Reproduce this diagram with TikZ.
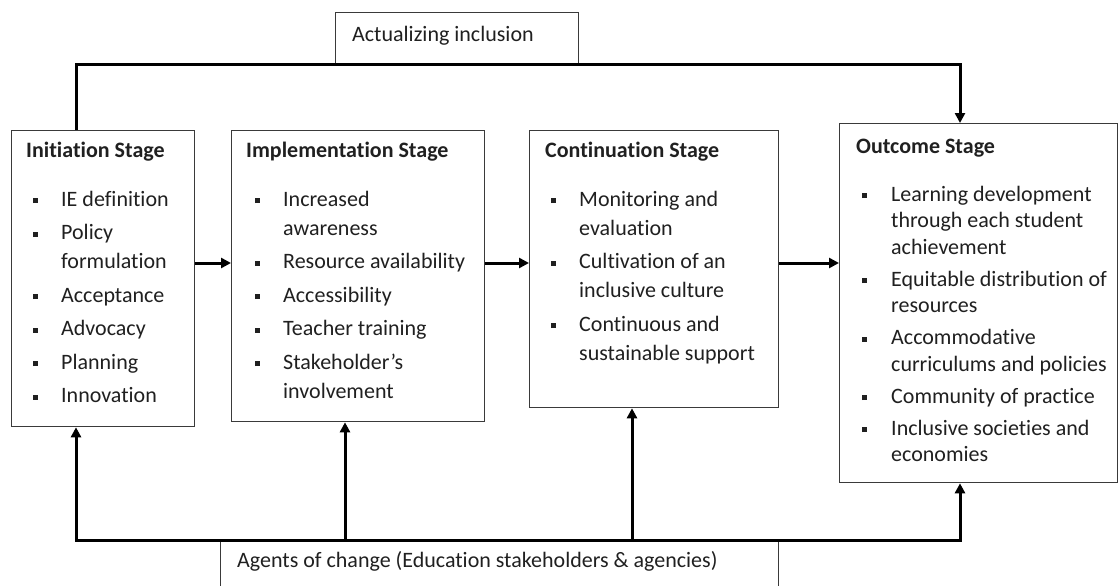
\documentclass[tikz,border=0pt]{standalone}
\usepackage{fontspec}
\setmainfont{Carlito}[Ligatures=NoCommon]
\usetikzlibrary{arrows.meta}

\definecolor{boxgray}{HTML}{3A3A3A}
\definecolor{inkgray}{HTML}{202020}

% small square bullet
\newcommand{\sqbullet}{\rule[3pt]{4.8pt}{4.8pt}}

\tikzset{
  stagebox/.style={draw=boxgray, line width=1.3pt, inner sep=0pt, anchor=north west, fill=white},
  conn/.style={line width=3pt, draw=black, line join=miter},
  tip/.style={-{Triangle[length=10pt,width=10pt]}},
  titletext/.style={anchor=base west, inner sep=0pt, text=inkgray, font=\fontsize{22}{29}\selectfont\bfseries},
  listtext/.style={anchor=base west, inner sep=0pt, text=inkgray},
  plaintext/.style={anchor=base west, inner sep=0pt, text=inkgray, font=\fontsize{22}{29}\selectfont},
}

\begin{document}
\begin{tikzpicture}[x=1pt,y=-1pt]
\useasboundingbox (0,0) rectangle (1119,586);
\fill[white] (0,0) rectangle (1119,586);

% boxes
\node[stagebox, minimum width=243pt, minimum height=53pt] (actual) at (335,12) {};
\node[stagebox, minimum width=183pt, minimum height=296pt] (init) at (11,130) {};
\node[stagebox, minimum width=253pt, minimum height=291pt] (impl) at (231,130) {};
\node[stagebox, minimum width=249pt, minimum height=277pt] (cont) at (529,130) {};
\node[stagebox, minimum width=278pt, minimum height=359pt] (out) at (839,123) {};
\node[stagebox, minimum width=558pt, minimum height=70pt] (agents) at (220,540) {};

% box labels
\node[plaintext] (actualtxt) at (352,42) {Actualizing inclusion};
\node[plaintext] (agentstxt) at (237,567) {Agents of change (Education stakeholders \& agencies)};

\node[titletext] (inittitle) at (26,157) {Initiation Stage};
\node[titletext] (impltitle) at (246,157) {Implementation Stage};
\node[titletext] (conttitle) at (545,157) {Continuation Stage};
\node[titletext] (outtitle) at (856,153) {Outcome Stage};

\node[listtext] (initlist) at (33,206) {\fontsize{22}{29}\selectfont
  \begin{tabular}[t]{@{}p{28pt}@{}l@{}}
  \sqbullet & IE definition\\[4.5pt]
  \sqbullet & Policy\\
            & formulation\\[4.5pt]
  \sqbullet & Acceptance\\[4.5pt]
  \sqbullet & Advocacy\\[4.5pt]
  \sqbullet & Planning\\[4.5pt]
  \sqbullet & Innovation
  \end{tabular}};

\node[listtext] (impllist) at (255,206) {\fontsize{22}{29}\selectfont
  \begin{tabular}[t]{@{}p{28pt}@{}l@{}}
  \sqbullet & Increased\\
            & awareness\\[4.5pt]
  \sqbullet & Resource availability\\[4.5pt]
  \sqbullet & Accessibility\\[4.5pt]
  \sqbullet & Teacher training\\[4.5pt]
  \sqbullet & Stakeholder’s\\
            & involvement
  \end{tabular}};

\node[listtext] (contlist) at (551,206) {\fontsize{22}{29}\selectfont
  \begin{tabular}[t]{@{}p{28pt}@{}l@{}}
  \sqbullet & Monitoring and\\
            & evaluation\\[4.5pt]
  \sqbullet & Cultivation of an\\
            & inclusive culture\\[4.5pt]
  \sqbullet & Continuous and\\
            & sustainable support
  \end{tabular}};

\node[listtext] (outlist) at (862,201) {\fontsize{22}{26.5}\selectfont
  \begin{tabular}[t]{@{}p{29pt}@{}l@{}}
  \sqbullet & Learning development\\
            & through each student\\
            & achievement\\[5.5pt]
  \sqbullet & Equitable distribution of\\
            & resources\\[5.5pt]
  \sqbullet & Accommodative\\
            & curriculums and policies\\[5.5pt]
  \sqbullet & Community of practice\\[5.5pt]
  \sqbullet & Inclusive societies and\\
            & economies
  \end{tabular}};

% connector anchors
\coordinate (tl) at (76,65);
\coordinate (tr) at (960,65);
\coordinate (bl) at (76,540);
\coordinate (br) at (960,540);
\coordinate (bm1) at (345,540);
\coordinate (bm2) at (632,540);
\coordinate (mid) at (0,263);

% top feedback line
\draw[conn, tip] (tl |- init.north) -- (tl) -- (tr) -- (tr |- out.north);

% stage sequence
\draw[conn, tip] (init.east |- mid) -- (impl.west |- mid);
\draw[conn, tip] (impl.east |- mid) -- (cont.west |- mid);
\draw[conn, tip] (cont.east |- mid) -- (out.west |- mid);

% agents of change feeding every stage
\draw[conn, {Triangle[length=10pt,width=10pt]}-{Triangle[length=10pt,width=10pt]}]
  (bl |- init.south) -- (bl) -- (br) -- (br |- out.south);
\draw[conn, tip] (bm1) -- (bm1 |- impl.south);
\draw[conn, tip] (bm2) -- (bm2 |- cont.south);
\end{tikzpicture}
\end{document}
